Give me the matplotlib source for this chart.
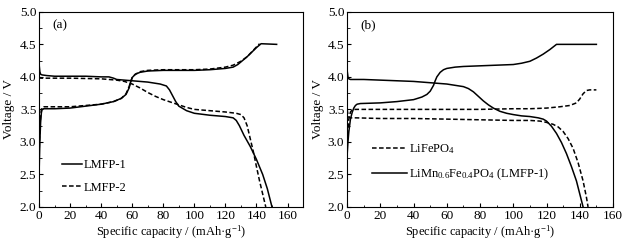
import matplotlib
matplotlib.use("Agg")
import matplotlib.pyplot as plt
from matplotlib.ticker import MultipleLocator

plt.rcParams['font.family'] = ['Liberation Serif', 'DejaVu Serif']
plt.rcParams['mathtext.fontset'] = 'custom'
plt.rcParams['mathtext.rm'] = 'Liberation Serif'
plt.rcParams['mathtext.it'] = 'Liberation Serif'

## panel (a) -- LMFP-1 / LMFP-2
a1_chg_x = [0, 0.5, 1, 1.5, 2, 3, 10, 20, 30, 40, 48, 53, 56, 58, 59, 60, 62, 65, 70, 80, 90, 100, 110, 120, 125, 128, 131, 134, 137, 140, 143, 153]
a1_chg_y = [2.5, 3.0, 3.3, 3.45, 3.5, 3.51, 3.51, 3.52, 3.55, 3.58, 3.62, 3.67, 3.73, 3.83, 3.92, 3.99, 4.04, 4.07, 4.09, 4.1, 4.1, 4.1, 4.11, 4.13, 4.15, 4.19, 4.25, 4.31, 4.38, 4.45, 4.51, 4.5]
a2_chg_x = [0, 0.5, 1, 1.5, 2, 3, 10, 20, 30, 40, 48, 53, 56, 58, 59, 60, 62, 65, 70, 80, 90, 100, 110, 120, 125, 130, 134, 138, 142]
a2_chg_y = [2.8, 3.2, 3.4, 3.5, 3.53, 3.54, 3.54, 3.54, 3.56, 3.58, 3.62, 3.67, 3.74, 3.85, 3.93, 3.99, 4.04, 4.08, 4.1, 4.11, 4.11, 4.11, 4.12, 4.15, 4.18, 4.24, 4.31, 4.41, 4.51]
a1_dis_x = [0, 0.5, 1, 2, 5, 10, 20, 30, 40, 45, 48, 50, 60, 70, 78, 82, 84, 86, 88, 90, 95, 100, 110, 120, 125, 127, 129, 132, 136, 140, 144, 147, 150]
a1_dis_y = [4.2, 4.08, 4.04, 4.03, 4.02, 4.01, 4.01, 4.01, 4.0, 4.0, 3.98, 3.96, 3.94, 3.92, 3.89, 3.86, 3.8, 3.71, 3.62, 3.55, 3.48, 3.44, 3.41, 3.39, 3.37, 3.33, 3.25, 3.1, 2.93, 2.73, 2.5, 2.28, 2.0]
a2_dis_x = [0, 1, 5, 20, 40, 50, 55, 60, 65, 70, 75, 80, 85, 90, 95, 100, 110, 120, 127, 130, 132, 134, 136, 138, 140, 142, 144, 146]
a2_dis_y = [4.0, 3.98, 3.98, 3.98, 3.97, 3.95, 3.93, 3.89, 3.83, 3.76, 3.7, 3.65, 3.61, 3.57, 3.53, 3.5, 3.48, 3.46, 3.44, 3.42, 3.37, 3.25, 3.05, 2.85, 2.62, 2.4, 2.2, 2.0]

## panel (b) -- LiFePO4 vs LMFP-1
b1_chg_x = [0, 0.5, 1, 2, 3, 4, 5, 6, 8, 20, 30, 40, 45, 48, 50, 52, 53, 54, 56, 58, 60, 65, 70, 80, 90, 100, 105, 110, 114, 118, 122, 126, 150]
b1_chg_y = [2.8, 3.0, 3.15, 3.35, 3.45, 3.52, 3.56, 3.58, 3.59, 3.6, 3.62, 3.65, 3.69, 3.73, 3.78, 3.87, 3.94, 4.0, 4.07, 4.11, 4.13, 4.15, 4.16, 4.17, 4.18, 4.19, 4.21, 4.24, 4.29, 4.35, 4.42, 4.5, 4.5]
b1_dis_x = [0, 0.5, 1, 2, 10, 20, 30, 40, 50, 60, 65, 70, 73, 76, 79, 82, 85, 88, 92, 96, 100, 105, 110, 115, 118, 120, 123, 126, 129, 132, 135, 138, 142]
b1_dis_y = [4.1, 4.0, 3.97, 3.96, 3.96, 3.95, 3.94, 3.93, 3.91, 3.89, 3.87, 3.85, 3.82, 3.77, 3.7, 3.63, 3.57, 3.52, 3.47, 3.44, 3.42, 3.4, 3.39, 3.37, 3.35, 3.32, 3.24, 3.13, 2.99, 2.82, 2.62, 2.4, 2.0]
b2_chg_x = [0, 0.5, 1, 2, 3, 5, 20, 40, 60, 80, 100, 110, 120, 128, 134, 138, 140, 142, 144, 146, 150]
b2_chg_y = [3.0, 3.2, 3.35, 3.46, 3.49, 3.5, 3.5, 3.5, 3.5, 3.5, 3.51, 3.51, 3.52, 3.54, 3.56, 3.6, 3.66, 3.74, 3.79, 3.8, 3.8]
b2_dis_x = [0, 0.5, 1, 2, 5, 20, 40, 60, 80, 100, 110, 116, 120, 124, 127, 130, 133, 136, 139, 142, 144, 145]
b2_dis_y = [3.5, 3.42, 3.38, 3.37, 3.37, 3.36, 3.36, 3.35, 3.34, 3.33, 3.33, 3.32, 3.3, 3.27, 3.23, 3.16, 3.05, 2.9, 2.68, 2.4, 2.15, 2.0]

fig = plt.figure(figsize=(6.3, 2.42), dpi=100)
axa = fig.add_axes([0.062, 0.145, 0.419, 0.806])
axb = fig.add_axes([0.551, 0.145, 0.422, 0.806])

lw = 1.1
dash = (3, 1.6)
axa.plot(a1_chg_x, a1_chg_y, 'k-', lw=lw, label='LMFP-1')
axa.plot(a1_dis_x, a1_dis_y, 'k-', lw=lw)
axa.plot(a2_chg_x, a2_chg_y, 'k--', lw=lw, dashes=dash, label='LMFP-2')
axa.plot(a2_dis_x, a2_dis_y, 'k--', lw=lw, dashes=dash)
axa.set_xlim(0, 170)

axb.plot(b2_chg_x, b2_chg_y, 'k--', lw=lw, dashes=dash, label='LiFePO$_4$')
axb.plot(b2_dis_x, b2_dis_y, 'k--', lw=lw, dashes=dash)
axb.plot(b1_chg_x, b1_chg_y, 'k-', lw=lw, label='LiMn$_{0.6}$Fe$_{0.4}$PO$_4$ (LMFP-1)')
axb.plot(b1_dis_x, b1_dis_y, 'k-', lw=lw)
axb.set_xlim(0, 160)

for ax, tag in [(axa, '(a)'), (axb, '(b)')]:
    ax.set_ylim(2.0, 5.0)
    ax.xaxis.set_major_locator(MultipleLocator(20))
    ax.xaxis.set_minor_locator(MultipleLocator(10))
    ax.yaxis.set_major_locator(MultipleLocator(0.5))
    ax.yaxis.set_minor_locator(MultipleLocator(0.25))
    ax.yaxis.set_major_formatter(matplotlib.ticker.FormatStrFormatter('%.1f'))
    ax.tick_params(which='both', direction='in', top=False, right=False, labelsize=9.5, pad=2)
    ax.tick_params(which='major', length=3)
    ax.tick_params(which='minor', length=1.8)
    ax.set_xlabel('Specific capacity / (mAh·g$^{-1}$)', fontsize=9, labelpad=1)
    ax.set_ylabel('Voltage / V', fontsize=9.5, labelpad=3)
    ax.text(0.05, 0.915, tag, transform=ax.transAxes, fontsize=9.5)
    for s in ax.spines.values():
        s.set_linewidth(0.8)

axa.legend(loc='lower left', bbox_to_anchor=(0.043, 0.01), frameon=False, fontsize=9,
           handlelength=1.6, handletextpad=0.2, labelspacing=0.85)
axb.legend(loc='lower left', bbox_to_anchor=(0.05, 0.07), frameon=False, fontsize=9,
           handlelength=2.8, handletextpad=0.2, labelspacing=0.85)

fig.savefig('out.png', dpi=100)
